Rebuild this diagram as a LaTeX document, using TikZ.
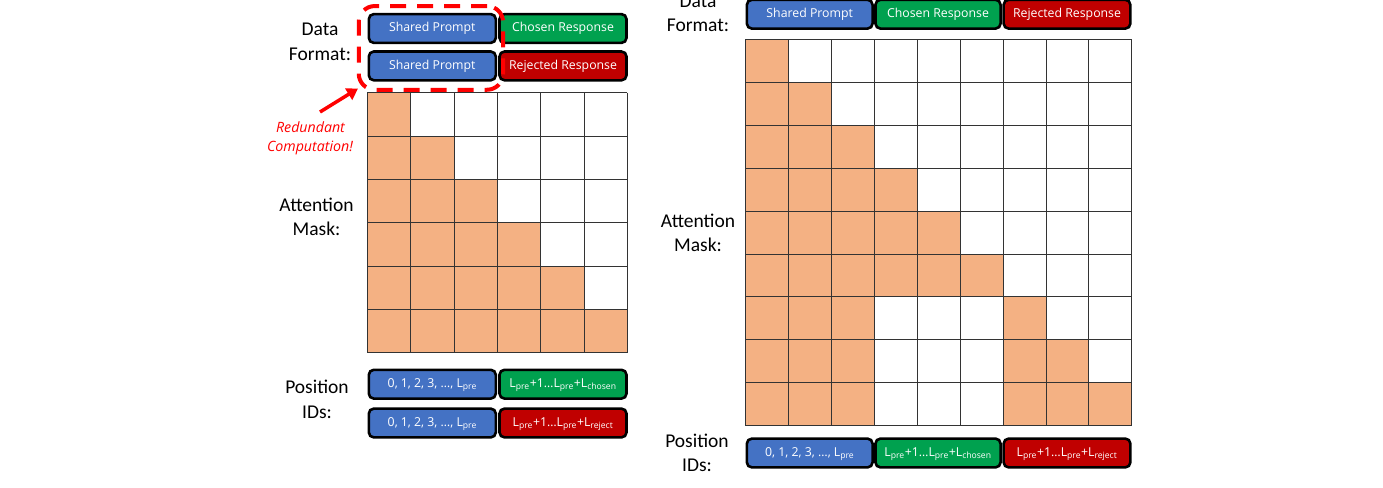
\documentclass[tikz,border=0pt]{standalone}
\usepackage{fontspec}
\setmainfont{Carlito}
\newfontfamily\boxfont{Open Sans}
\usetikzlibrary{arrows.meta}
\definecolor{cblue}{HTML}{4472C4}
\definecolor{cgreen}{HTML}{00A14F}
\definecolor{cred}{HTML}{C00000}
\definecolor{corange}{HTML}{F4B183}
\definecolor{dred}{HTML}{FF0000}
\begin{document}
\begin{tikzpicture}[x=1pt,y=-1pt,
  box/.style={draw=black, line width=2.6pt, rounded corners=5pt, minimum width=127pt,
    minimum height=28.8pt, inner sep=0pt, text=white,
    font=\boxfont\fontsize{12.3}{14}\selectfont, text height=9pt, text depth=2.5pt},
  sbox/.style={box, font=\boxfont\fontsize{12.3}{14}\selectfont},
  lbl/.style={anchor=base, inner sep=0pt, font=\fontsize{19.5}{23}\selectfont},
  redtxt/.style={anchor=base, inner sep=0pt, text=dred, font=\boxfont\fontsize{14.2}{17}\selectfont\itshape},
  gridline/.style={draw=black!80, line width=0.9pt},
  cell/.style={fill=corange},
  redbox/.style={draw=dred, line width=4pt, dash pattern=on 16pt off 11pt, rounded corners=16pt,
    minimum width=144.3pt, minimum height=83.7pt, inner sep=0pt},
  redarrow/.style={draw=dred, line width=3.5pt, -{Triangle[length=11pt,width=13pt]}}]
\useasboundingbox (0,0) rectangle (1383,487);

% ---------------- left panel ----------------
\node[lbl] (ldata) at (320,36) {Data};
\node[lbl] (lformat) at (320,60) {Format:};
\node[box, fill=cblue] (lsp1) at (432.3,28.5) {Shared Prompt};
\node[box, fill=cgreen] (lcr) at (563,28.5) {Chosen Response};
\node[box, fill=cblue] (lsp2) at (432.3,65.9) {Shared Prompt};
\node[box, fill=cred] (lrr) at (563,65.9) {Rejected Response};

% mask (left)
\foreach \r in {0,...,5}
  \foreach \c in {0,...,\r}
    \fill[cell] ({367.3+\c*43.33},{92.7+\r*43.33}) rectangle ++(43.33,43.33);
\foreach \i in {0,...,6} {
  \draw[gridline] ({367.3+\i*43.33},92.7) -- ++(0,260);
  \draw[gridline] (367.3,{92.7+\i*43.33}) -- ++(260,0);
}
\node[lbl] (lattn) at (316.5,211.7) {Attention};
\node[lbl] (lmask) at (316.5,235.5) {Mask:};

% redundant computation
\node[redbox] (redund) at (430.9,47.9) {};
\coordinate (arrtail) at (320,112);
\coordinate (arrtip) at (358,88.5);
\draw[redarrow] (arrtail) -- (arrtip);
\node[redtxt] (red1) at (310.5,132.7) {Redundant};
\node[redtxt] (red2) at (310,151.7) {Computation!};

% position ids (left)
\node[lbl] (lpos) at (317,393.3) {Position};
\node[lbl] (lids) at (317,418) {IDs:};
\node[sbox, fill=cblue] (lp1) at (432.3,384.2) {0, 1, 2, 3, …, L\textsubscript{pre}};
\node[sbox, fill=cgreen] (lp2) at (563,384.2) {L\textsubscript{pre}+1…L\textsubscript{pre}+L\textsubscript{chosen}};
\node[sbox, fill=cblue] (lp3) at (432.3,423) {0, 1, 2, 3, …, L\textsubscript{pre}};
\node[sbox, fill=cred] (lp4) at (563,423) {L\textsubscript{pre}+1…L\textsubscript{pre}+L\textsubscript{reject}};

% ---------------- right panel ----------------
\node[lbl] (rdata) at (698,7.7) {Data};
\node[lbl] (rformat) at (698,31.7) {Format:};
\node[box, fill=cblue, minimum width=125.7pt] (rsp) at (809.7,14.2) {Shared Prompt};
\node[box, fill=cgreen, minimum width=125.1pt] (rcr) at (938,14.2) {Chosen Response};
\node[box, fill=cred, minimum width=126.7pt] (rrr) at (1067,14.2) {Rejected Response};

% mask (right)
\foreach \r in {0,...,5}
  \foreach \c in {0,...,\r}
    \fill[cell] ({745.7+\c*42.9},{39.3+\r*42.93}) rectangle ++(42.9,42.93);
\foreach \r in {6,7,8} {
  \foreach \c in {0,1,2}
    \fill[cell] ({745.7+\c*42.9},{39.3+\r*42.93}) rectangle ++(42.9,42.93);
  \foreach \c in {6,...,\r}
    \fill[cell] ({745.7+\c*42.9},{39.3+\r*42.93}) rectangle ++(42.9,42.93);
}
\foreach \i in {0,...,9} {
  \draw[gridline] ({745.7+\i*42.9},39.3) -- ++(0,386.4);
  \draw[gridline] (745.7,{39.3+\i*42.93}) -- ++(386.1,0);
}
\node[lbl] (rattn) at (698,227.7) {Attention};
\node[lbl] (rmask) at (698,251.7) {Mask:};

% position ids (right)
\node[lbl] (rpos) at (697,447.3) {Position};
\node[lbl] (rids) at (697,471.5) {IDs:};
\node[sbox, fill=cblue, minimum width=125.7pt] (rp1) at (809.7,453) {0, 1, 2, 3, …, L\textsubscript{pre}};
\node[sbox, fill=cgreen, minimum width=125.1pt] (rp2) at (938,453) {L\textsubscript{pre}+1…L\textsubscript{pre}+L\textsubscript{chosen}};
\node[sbox, fill=cred, minimum width=126.7pt] (rp3) at (1067,453) {L\textsubscript{pre}+1…L\textsubscript{pre}+L\textsubscript{reject}};
\end{tikzpicture}
\end{document}
